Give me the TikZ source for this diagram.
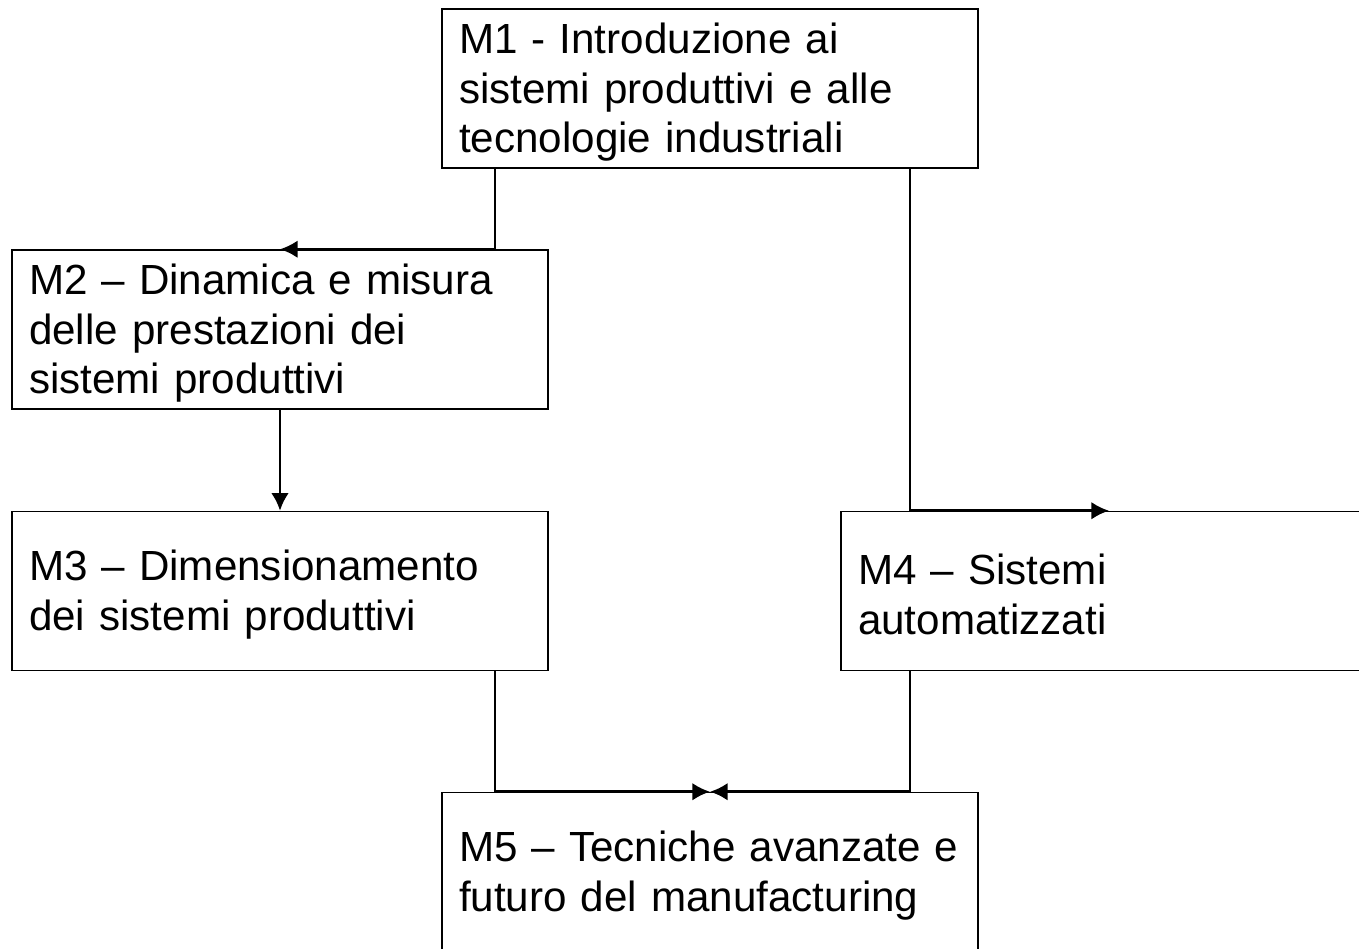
\documentclass[tikz,border=0pt]{standalone}
\usepackage{fontspec}
\setmainfont{Liberation Sans}
\usetikzlibrary{arrows.meta}
\begin{document}
\begin{tikzpicture}[x=0.02cm,y=-0.02cm,
            modulo/.style={draw,line width=0.9pt,minimum width=10.72cm,minimum height=3.18cm,
                text width=10.04cm,inner xsep=0.34cm,align=left,font=\fontsize{24}{28.2}\selectfont,
                execute at begin node={\rule{0pt}{21.5pt}}},
            freccia/.style={line width=1.5pt,-{Latex[length=10pt,width=10pt]}}]
            \useasboundingbox (0,0) rectangle (1359,948);
            \clip (0,0) rectangle (1359,948);

            \node[modulo] (m1) at (710,88.5) {M1 - Introduzione ai\\sistemi produttivi e alle\\tecnologie industriali};
            \node[modulo] (m2) at (280,329.5) {M2 -- Dinamica e misura\\delle prestazioni dei\\sistemi produttivi};
            \node[modulo] (m3) at (280,591) {M3 -- Dimensionamento\\dei sistemi produttivi};
            \node[modulo] (m4) at (1109,591) {M4 -- Sistemi\\automatizzati};
            \node[modulo] (m5) at (710,872) {M5 -- Tecniche avanzate e\\futuro del manufacturing};

            \draw[freccia] (495,0 |- m1.south) |- (m2.north);
            \draw[freccia] (m2.south) -- (m3.north);
            \draw[freccia] (910,0 |- m1.south) |- (m4.north);
            \draw[freccia] (495,0 |- m3.south) |- (m5.north);
            \draw[freccia] (910,0 |- m4.south) |- (m5.north);

        \end{tikzpicture}
\end{document}
